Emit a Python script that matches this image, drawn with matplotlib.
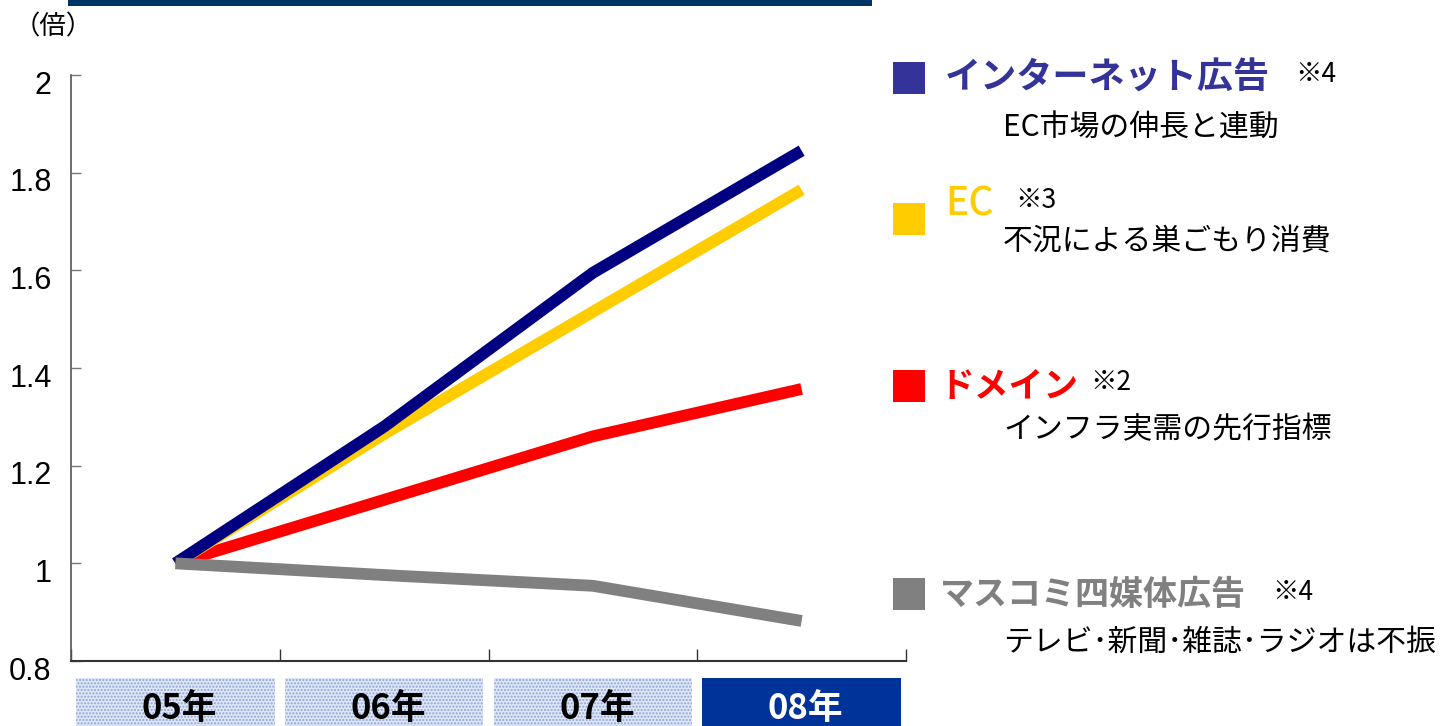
import matplotlib
matplotlib.use('Agg')
import matplotlib.pyplot as plt
import matplotlib.patches as patches
import matplotlib.transforms as transforms
from matplotlib import font_manager

plt.rcParams['font.family'] = ['Noto Sans CJK JP', 'DejaVu Sans']

# data
years = ['05年', '06年', '07年', '08年']
internet = [1.0, 1.28, 1.595, 1.845]
ec = [1.0, 1.265, 1.515, 1.765]
domain = [1.0, 1.13, 1.26, 1.357]
mass = [1.0, 0.976, 0.954, 0.882]

yticks = [0.8, 1.0, 1.2, 1.4, 1.6, 1.8, 2.0]

labels = ['インターネット広告', 'EC', 'ドメイン', 'マスコミ四媒体広告']
notes = ['※4', '※3', '※2', '※4']
descs = ['EC市場の伸長と連動', '不況による巣ごもり消費', 'インフラ実需の先行指標', 'テレビ･新聞･雑誌･ラジオは不振']

W = 1443
H = 726

# narrow font for numbers if there is one
narrow = 'Liberation Sans Narrow'
try:
    font_manager.findfont(narrow, fallback_to_default=False)
except Exception:
    narrow = 'Liberation Sans'


def fx(x):
    return x / W


def fy(y):
    return 1 - y / H


fig = plt.figure(figsize=(W / 100, H / 100), dpi=100)
ax = fig.add_axes([fx(71), fy(661), fx(906) - fx(71), fy(75) - fy(661)])

x = range(len(years))
ax.plot(x, domain, color='#ff0000', lw=8.5, solid_capstyle='butt')
ax.plot(x, ec, color='#ffcc00', lw=8.5, solid_capstyle='butt')
ax.plot(x, internet, color='#000080', lw=8.5, solid_capstyle='butt')
ax.plot(x, mass, color='#808080', lw=8.5, solid_capstyle='butt')

ax.set_xlim(-0.5, 3.5)
ax.set_ylim(0.8, 2.0)
ax.spines['top'].set_visible(False)
ax.spines['right'].set_visible(False)
ax.spines['left'].set_color('#555555')
ax.spines['bottom'].set_color('#333333')
ax.spines['left'].set_linewidth(1.2)
ax.spines['bottom'].set_linewidth(1.5)

ax.set_xticks([-0.5, 0.5, 1.5, 2.5, 3.5])
ax.set_xticklabels([])
ax.tick_params(axis='x', direction='in', length=9, width=1, color='#333333')

ax.set_yticks(yticks)
ax.set_yticklabels(['%g' % v for v in yticks], fontfamily=narrow, fontsize=22)
ax.tick_params(axis='y', direction='in', length=7, width=1, color='#777777', pad=14)
off = transforms.ScaledTranslation(0, -7 / 100, fig.dpi_scale_trans)
for t in ax.get_yticklabels():
    t.set_transform(t.get_transform() + off)

# year boxes below the axis
box_tr = transforms.blended_transform_factory(ax.transData, fig.transFigure)
for i, yr in enumerate(years):
    if i == 3:
        r = patches.Rectangle((i - 0.475, 0), 0.95, fy(678), transform=box_tr,
                              facecolor='#003399', edgecolor='#003399', lw=0, clip_on=False)
        col = 'white'
    else:
        r = patches.Rectangle((i - 0.475, 0), 0.95, fy(678), transform=box_tr,
                              facecolor='#dfe6f5', edgecolor='#8da4da', hatch='.....',
                              lw=0, clip_on=False)
        col = 'black'
    fig.add_artist(r)
    fig.text(i + 0.02, fy(708), yr, transform=box_tr, ha='center', va='center',
             fontsize=25, fontweight='bold', color=col)

# top bar and unit
fig.add_artist(patches.Rectangle((fx(68), fy(6)), fx(872) - fx(68), 6 / H,
                                 transform=fig.transFigure, facecolor='#003366', lw=0))
fig.text(fx(14), fy(27), '（倍）', fontsize=19, va='center', ha='left')

# legend on the right
sq_col = ['#333399', '#ffcc00', '#ff0000', '#808080']
txt_col = ['#333399', '#ffcc00', '#ff0000', '#808080']
sq_y = [62, 203, 370, 578]
lab_x = [945, 945, 940, 940]
lab_y = [78, 205, 386, 594]
lab_size = [26, 28, 25, 24.5]
lab_weight = ['bold', 'medium', 'bold', 'bold']
note_x = [1295, 1015, 1090, 1272]
note_y = [75, 200, 383, 592]
desc_y = [128, 242, 430, 642]

for i in range(4):
    fig.add_artist(patches.Rectangle((fx(893), fy(sq_y[i] + 32)), 32 / W, 32 / H,
                                     transform=fig.transFigure, facecolor=sq_col[i], lw=0))
    fig.text(fx(lab_x[i]), fy(lab_y[i]), labels[i], color=txt_col[i],
             fontsize=lab_size[i], fontweight=lab_weight[i], va='center', ha='left')
    fig.text(fx(note_x[i]), fy(note_y[i]), notes[i], color='black',
             fontsize=19, va='center', ha='left')
    fig.text(fx(1003), fy(desc_y[i]), descs[i], color='black',
             fontsize=21.5, va='center', ha='left')

fig.savefig('out.png', dpi=100)
